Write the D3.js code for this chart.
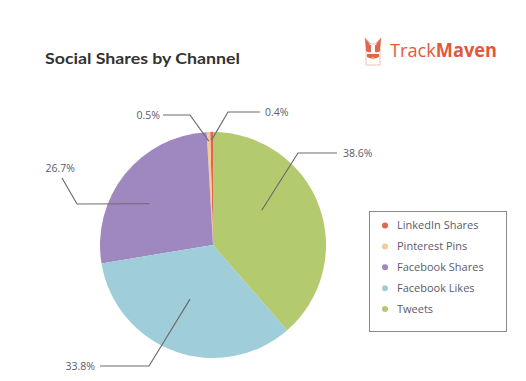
<!DOCTYPE html>
<html><head><meta charset="utf-8">
<script src="https://cdn.jsdelivr.net/npm/d3@7"></script>
<style>
html,body{margin:0;padding:0;background:#fff;}
svg{display:block;font-family:Lato,"Open Sans",sans-serif;}
</style></head>
<body>
<svg id="chart" width="526" height="381"></svg>
<script>
// data (order: counter-clockwise from 12 o'clock, same as legend)
const categories = ["LinkedIn Shares","Pinterest Pins","Facebook Shares","Facebook Likes","Tweets"];
const shares = [0.4, 0.5, 26.7, 33.8, 38.6];
const labels = ["0.4%","0.5%","26.7%","33.8%","38.6%"];
const colors = ["#e0654c","#f6c98e","#9f88bf","#9fcdd9","#b3cb6e"];

// label layout: inner radius factor, angle offset (deg), elbow, end, text
const labelLayout = [
  {rf:0.93, da:0,    elbow:[228,112], end:[260,112], tx:265, ty:112, anchor:"start"},
  {rf:0.92, da:0,    elbow:[190,115], end:[163,115], tx:160, ty:115, anchor:"end"},
  {rf:0.67, da:-5.7, elbow:[77,204],  end:[62,178],  tx:75,  ty:168, anchor:"end"},
  {rf:0.52, da:3.2,  elbow:[149,366], end:[100,366], tx:95,  ty:366, anchor:"end"},
  {rf:0.53, da:-15,  elbow:[298,153], end:[337,153], tx:343, ty:153, anchor:"start"}
];

const svg = d3.select("#chart");
const cx = 213, cy = 245, R = 113;

// title
svg.append("text").attr("x",45).attr("y",64)
  .attr("font-size",15.5).attr("font-weight",700).attr("fill","#333")
  .attr("textLength",195).attr("lengthAdjust","spacingAndGlyphs")
  .text("Social Shares by Channel");

// logo
const logo = svg.append("g").attr("transform","translate(362,35)");
// simplified corgi
logo.append("path").attr("d","M3,3 L9,9 L13,9 L19,3 L18,14 L18,30 L4,30 L4,14 Z")
  .attr("fill","#fff").attr("stroke","#eab2a4").attr("stroke-width",0.8);
logo.append("path").attr("d","M3,3 L8,9 L4,13 Z M19,3 L14,9 L18,13 Z").attr("fill","#e0654c");
logo.append("path").attr("d","M4,12 Q6,9 9,10 L9,17 Q6,18 4,16 Z M18,12 Q16,9 13,10 L13,17 Q16,18 18,16 Z").attr("fill","#e0654c");
logo.append("path").attr("d","M5,19 L17,19 L17,22 Q11,25 5,22 Z").attr("fill","#e0654c");
logo.append("circle").attr("cx",11).attr("cy",23).attr("r",1.3).attr("fill","#e8b33c");
svg.append("text").attr("x",390).attr("y",57).attr("font-size",19).attr("fill","#df5a3c")
  .attr("font-family","'Open Sans',Lato,sans-serif")
  .attr("textLength",107).attr("lengthAdjust","spacingAndGlyphs")
  .call(t=>{
    t.append("tspan").attr("font-weight",400).text("Track");
    t.append("tspan").attr("font-weight",700).text("Maven");
  });

// pie
const pie = d3.pie().sort(null).value(d=>d).startAngle(0).endAngle(-2*Math.PI);
const arcs = pie(shares);
const arc = d3.arc().innerRadius(0).outerRadius(R);
const g = svg.append("g").attr("transform",`translate(${cx},${cy})`);
g.selectAll("path").data(arcs).join("path")
  .attr("d",arc).attr("fill",(d,i)=>colors[i]);

// leader lines + labels
arcs.forEach((a,i)=>{
  const L = labelLayout[i];
  const r = R*L.rf;
  const mid = (a.startAngle+a.endAngle)/2 + L.da*Math.PI/180;
  const px = cx + r*Math.sin(mid), py = cy - r*Math.cos(mid);
  svg.append("polyline")
    .attr("points",[[px,py],L.elbow,L.end].map(p=>p.join(",")).join(" "))
    .attr("fill","none").attr("stroke","#6d6d6d").attr("stroke-width",1.2);
  svg.append("text").attr("x",L.tx).attr("y",L.ty).attr("dy","0.35em")
    .attr("text-anchor",L.anchor).attr("font-size",10.5).attr("fill","#5b5b6b")
    .attr("font-family","'Open Sans',sans-serif")
    .text(labels[i]);
});

// legend
const lg = svg.append("g");
lg.append("rect").attr("x",369.5).attr("y",211.5).attr("width",137).attr("height",120)
  .attr("fill","#fff").attr("stroke","#8a8a8a").attr("stroke-width",1);
const ly = d3.scalePoint().domain(categories).range([225.5,309]);
categories.forEach((c,i)=>{
  lg.append("circle").attr("cx",385).attr("cy",ly(c)).attr("r",3).attr("fill",colors[i]);
  lg.append("text").attr("x",397).attr("y",ly(c)).attr("dy","0.35em")
    .attr("font-size",11).attr("fill","#5b5b6b")
    .attr("font-family","'Open Sans',sans-serif").text(c);
});
</script>
</body></html>
